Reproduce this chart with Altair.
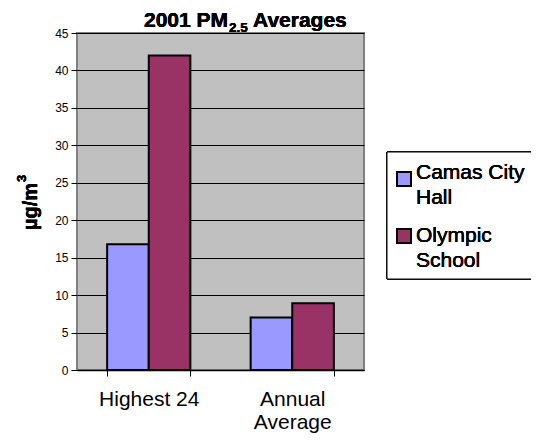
import altair as alt
import pandas as pd

categories = ["Highest 24", "Annual Average"]
series = ["Camas City Hall", "Olympic School"]
camas = [16.8, 7.0]
olympic = [42.0, 8.9]
colors = ["#9999FF", "#993366"]
y_ticks = [0, 5, 10, 15, 20, 25, 30, 35, 40, 45]

rows = []
for i, c in enumerate(categories):
    rows.append({"category": c, "series": series[0], "value": camas[i]})
    rows.append({"category": c, "series": series[1], "value": olympic[i]})
df = pd.DataFrame(rows)

W, H = 287, 337
FONT = "Liberation Sans"

bars = alt.Chart(df).mark_bar(stroke="black", strokeWidth=2).encode(
    x=alt.X("category:N", sort=categories,
            scale=alt.Scale(paddingInner=0.42, paddingOuter=0.21),
            axis=alt.Axis(title=None, labelAngle=0, labelFontSize=21, labelFont=FONT,
                          labelColor="black", tickBand="extent", tickSize=6,
                          tickColor="black", domainColor="black", domainWidth=1.5,
                          labelPadding=12, labelLineHeight=23,
                          labelExpr="split(datum.label, ' ')[0] == 'Annual' ? ['Annual', 'Average'] : datum.label")),
    xOffset=alt.XOffset("series:N", sort=series,
                        scale=alt.Scale(paddingInner=0, paddingOuter=0)),
    y=alt.Y("value:Q", scale=alt.Scale(domain=[0, 45], nice=False),
            axis=alt.Axis(title=None, values=y_ticks, labelFontSize=12, labelFont=FONT,
                          labelColor="black", tickColor="black", tickSize=6,
                          domain=False, grid=True, gridColor="black", gridWidth=1,
                          labelPadding=3)),
    color=alt.Color("series:N", sort=series,
                    scale=alt.Scale(domain=series, range=colors), legend=None),
)

def txt(text, x, y, size=21, bold=False, angle=0, align="left"):
    kw = dict(text=text, fontSize=size, font=FONT, color="black",
              align=align, baseline="alphabetic")
    if bold:
        kw["fontWeight"] = "bold"
    if angle:
        kw["angle"] = angle
    return alt.Chart(df).mark_text(**kw).encode(x=alt.value(x), y=alt.value(y))

# title pieces
t1 = txt("2001 PM", 67, -6, bold=True)
t2 = txt("2.5", 152, -1, size=13.5, bold=True)
t3 = txt("Averages", 176, -6, bold=True)

# y title
yt1 = txt("µg/m", -40, 197, size=20, bold=True, angle=270)
yt2 = txt("3", -51, 149, size=13, bold=True, angle=270)

# legend
box = alt.Chart(df).mark_rect(fill="white", stroke="black", strokeWidth=1).encode(
    x=alt.value(310), x2=alt.value(456), y=alt.value(119), y2=alt.value(246))
sq1 = alt.Chart(df).mark_rect(fill=colors[0], stroke="black", strokeWidth=2).encode(
    x=alt.value(320), x2=alt.value(334), y=alt.value(139), y2=alt.value(153))
sq2 = alt.Chart(df).mark_rect(fill=colors[1], stroke="black", strokeWidth=2).encode(
    x=alt.value(320), x2=alt.value(334), y=alt.value(196), y2=alt.value(210))
l1 = alt.Chart(df).mark_text(text=["Camas City", "Hall"], fontSize=21, font=FONT,
                             color="black", align="left", baseline="alphabetic",
                             lineHeight=25).encode(x=alt.value(339), y=alt.value(146))
l2 = alt.Chart(df).mark_text(text=["Olympic", "School"], fontSize=21, font=FONT,
                             color="black", align="left", baseline="alphabetic",
                             lineHeight=25).encode(x=alt.value(339), y=alt.value(209))

chart = alt.layer(bars, t1, t2, t3, yt1, yt2, box, sq1, sq2, l1, l2).properties(
    width=W, height=H,
    autosize=alt.AutoSizeParams(type="none"),
    padding={"left": 69, "top": 25, "right": 523 - 69 - W, "bottom": 426 - 25 - H},
    background="white",
).configure_view(fill="#C0C0C0", stroke="#808080", strokeWidth=2)

chart.save("out.html", embed_options={"renderer": "svg", "actions": False})
